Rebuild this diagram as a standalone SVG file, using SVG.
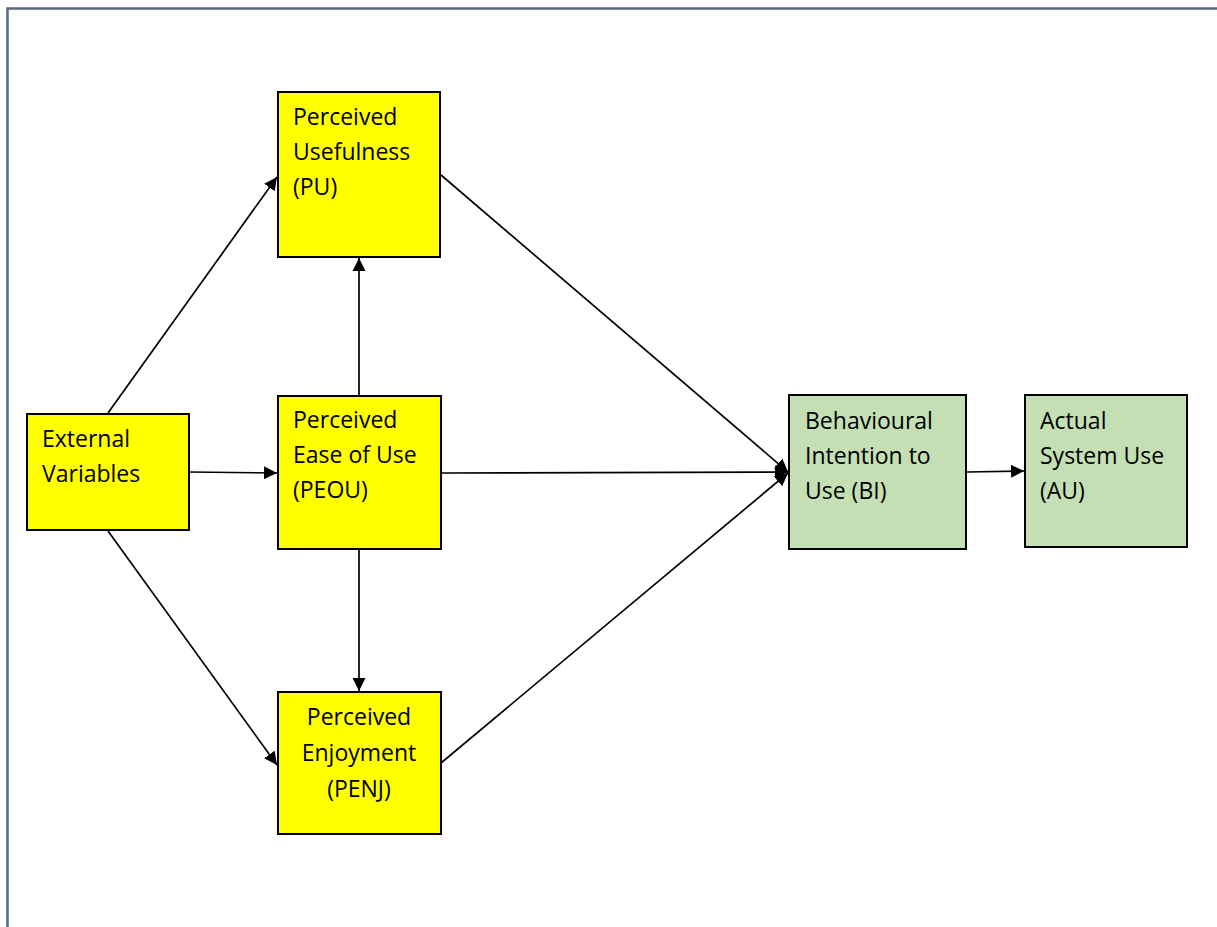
<svg xmlns="http://www.w3.org/2000/svg" width="1217" height="927" viewBox="0 0 1217 927">
<style>
.box{stroke:#000;stroke-width:2}
.y{fill:#ffff00}
.g{fill:#c4dfb4}
text{font-family:"Open Sans","Liberation Sans",sans-serif;font-size:23px;fill:#000}
.c{stroke:#000;stroke-width:1.7;fill:none;marker-end:url(#ah)}
</style>
<defs>
<marker id="ah" markerWidth="14" markerHeight="14" refX="13" refY="7" orient="auto" markerUnits="userSpaceOnUse">
<path d="M0,0.5 L13,7 L0,13.5 Z" fill="#000"/>
</marker>
</defs>
<rect width="1217" height="927" fill="#fff"/>
<path d="M7.5,927 V8.5 H1217" fill="none" stroke="#5a6881" stroke-width="2.5"/>
<g id="connectors">
<line class="c" x1="108" y1="413" x2="277" y2="177"/>
<line class="c" x1="189" y1="472" x2="277" y2="473"/>
<line class="c" x1="108" y1="531" x2="277" y2="765"/>
<line class="c" x1="359" y1="395" x2="359" y2="258"/>
<line class="c" x1="359" y1="550" x2="359" y2="691"/>
<line class="c" x1="441" y1="175" x2="788" y2="472"/>
<line class="c" x1="441" y1="473" x2="788" y2="472"/>
<line class="c" x1="441" y1="763" x2="788" y2="473"/>
<line class="c" x1="967" y1="472" x2="1024" y2="471"/>
</g>
<g id="pu"><rect class="box y" x="278" y="92" width="162" height="165"/>
<text x="293" y="125">Perceived</text><text x="293" y="160">Usefulness</text><text x="293" y="195">(PU)</text></g>
<g id="ext"><rect class="box y" x="27" y="414" width="162" height="116"/>
<text x="42" y="447">External</text><text x="42" y="482">Variables</text></g>
<g id="peou"><rect class="box y" x="278" y="396" width="163" height="153"/>
<text x="293" y="428">Perceived</text><text x="293" y="463">Ease of Use</text><text x="293" y="498">(PEOU)</text></g>
<g id="penj"><rect class="box y" x="278" y="692" width="163" height="142"/>
<text x="359" y="725" text-anchor="middle">Perceived</text><text x="359" y="761" text-anchor="middle">Enjoyment</text><text x="359" y="797" text-anchor="middle">(PENJ)</text></g>
<g id="bi"><rect class="box g" x="789" y="395" width="177" height="154"/>
<text x="805" y="429">Behavioural</text><text x="805" y="464">Intention to</text><text x="805" y="499">Use (BI)</text></g>
<g id="au"><rect class="box g" x="1025" y="395" width="162" height="152"/>
<text x="1040" y="429">Actual</text><text x="1040" y="464">System Use</text><text x="1040" y="499">(AU)</text></g>
</svg>
